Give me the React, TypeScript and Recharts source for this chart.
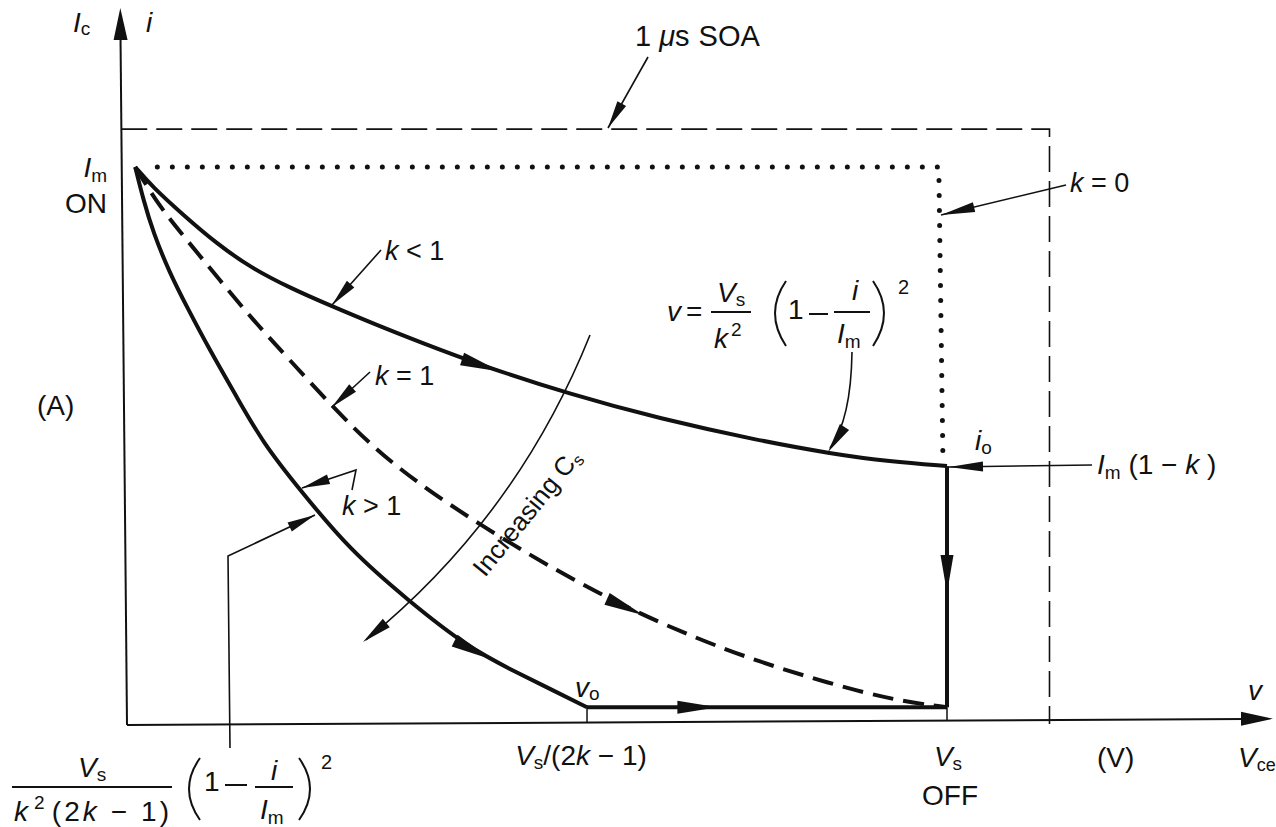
import { LineChart, Line, XAxis, YAxis } from "recharts";

const WIDTH = 1276;
const HEIGHT = 827;

// pixel position of the origin, and pixels per Vs / per Im
const ORIGIN_X = 127;
const ORIGIN_Y = 724;
const VS_PX = 820;
const IM_PX = 557;

const X_DOMAIN = [-ORIGIN_X / VS_PX, (WIDTH - ORIGIN_X) / VS_PX];
const Y_DOMAIN = [-(HEIGHT - ORIGIN_Y) / IM_PX, ORIGIN_Y / IM_PX];

const sx = (v: number) => ORIGIN_X + v * VS_PX;
const sy = (i: number) => ORIGIN_Y - i * IM_PX;

// all trajectories: v in units of Vs, i in units of Im
const V_S = 1;
const V_O = 0.561; // Vs/(2k - 1), k > 1
const I_O = 0.463; // Im(1 - k), k < 1
const I_TAIL = 0.03;

const K_LT1_V = [0.01, 0.03, 0.07, 0.11, 0.15, 0.2, 0.25, 0.3, 0.36, 0.43, 0.54, 0.65, 0.77, 0.86, 0.93, 1.0];
const K_LT1_I = [1.0, 0.966, 0.912, 0.862, 0.82, 0.782, 0.75, 0.719, 0.684, 0.645, 0.592, 0.548, 0.509, 0.485, 0.471, 0.463];

const K_EQ1_V = [0.01, 0.04, 0.073, 0.113, 0.154, 0.195, 0.251, 0.3, 0.354, 0.434, 0.516, 0.6, 0.69, 0.772, 0.854, 0.934, 1.0];
const K_EQ1_I = [1.0, 0.928, 0.869, 0.797, 0.725, 0.659, 0.569, 0.497, 0.433, 0.354, 0.282, 0.215, 0.156, 0.111, 0.074, 0.043, 0.03];

const K_GT1_V = [0.01, 0.02, 0.032, 0.052, 0.073, 0.101, 0.134, 0.166, 0.211, 0.272, 0.342, 0.415, 0.476, 0.52, 0.561];
const K_GT1_I = [1.0, 0.941, 0.882, 0.81, 0.749, 0.671, 0.587, 0.504, 0.42, 0.312, 0.223, 0.138, 0.092, 0.06, 0.03];

const TAIL_V = [V_O, V_S];
const TAIL_I = [I_TAIL, I_TAIL];
const DROP_V = [V_S, V_S];
const DROP_I = [I_O, I_TAIL];

// k = 0 path and the 1 us safe operating area
const K0_V = [0.037, 0.99, 0.995];
const K0_I = [1.0, 1.0, 0.48];
const SOA_V = [-0.007, 1.125, 1.125];
const SOA_I = [1.068, 1.068, 0];

const INK = "#111";
const FONT = '"Liberation Sans", Arial, Helvetica, sans-serif';

const pts = (vs: number[], is: number[]) => vs.map((v, n) => ({ v, i: is[n] }));

function along(vs: number[], is: number[], v: number) {
  for (let n = 1; n < vs.length; n++) {
    if (v <= vs[n]) {
      const t = (v - vs[n - 1]) / (vs[n] - vs[n - 1]);
      return is[n - 1] + t * (is[n] - is[n - 1]);
    }
  }
  return is[is.length - 1];
}

function Head({ x, y, ux, uy, len = 28, half = 5 }: any) {
  const bx = x - ux * len;
  const by = y - uy * len;
  const px = -uy * half;
  const py = ux * half;
  return <polygon points={`${x},${y} ${bx + px},${by + py} ${bx - px},${by - py}`} fill={INK} />;
}

function Leader({ points, len = 28, half = 5 }: { points: number[][]; len?: number; half?: number }) {
  const [ax, ay] = points[points.length - 2];
  const [tx, ty] = points[points.length - 1];
  const d = Math.hypot(tx - ax, ty - ay);
  return (
    <g>
      <polyline points={points.map((p) => p.join(",")).join(" ")} fill="none" stroke={INK} strokeWidth={1.6} />
      <Head x={tx} y={ty} ux={(tx - ax) / d} uy={(ty - ay) / d} len={len} half={half} />
    </g>
  );
}

// direction arrows sitting on the trajectories
const FLOW = [
  { vs: K_LT1_V, is: K_LT1_I, v: 0.455 },
  { vs: K_EQ1_V, is: K_EQ1_I, v: 0.63 },
  { vs: K_GT1_V, is: K_GT1_I, v: 0.443 },
  { vs: TAIL_V, is: TAIL_I, v: 0.72 },
];

function FlowArrow({ vs, is, v }: { vs: number[]; is: number[]; v: number }) {
  const x1 = sx(v - 0.02);
  const y1 = sy(along(vs, is, v - 0.02));
  const x2 = sx(v);
  const y2 = sy(along(vs, is, v));
  const d = Math.hypot(x2 - x1, y2 - y1);
  return <Head x={x2} y={y2} ux={(x2 - x1) / d} uy={(y2 - y1) / d} len={40} half={6.5} />;
}

function T({ x, y, size = 28, anchor = "start", children, ...rest }: any) {
  return (
    <text x={x} y={y} fontSize={size} fontFamily={FONT} fill={INK} textAnchor={anchor} {...rest}>
      {children}
    </text>
  );
}

const it = { fontStyle: "italic" } as const;

function Annotations() {
  return (
    <svg width={WIDTH} height={HEIGHT} style={{ position: "absolute", left: 0, top: 0, pointerEvents: "none" }}>
      {/* axes */}
      <line x1={sx(0) - 6.5} y1={36} x2={sx(0)} y2={sy(0) + 1} stroke={INK} strokeWidth={2} />
      <Head x={sx(0) - 6.7} y={8} ux={-0.009} uy={-1} len={32} half={7} />
      <line x1={sx(0)} y1={sy(0) + 1} x2={1245} y2={719} stroke={INK} strokeWidth={2} />
      <Head x={1273} y={718.7} ux={1} uy={-0.005} len={32} half={7} />

      {/* ticks at Vs/(2k-1) and Vs */}
      <line x1={sx(V_O)} y1={sy(I_TAIL)} x2={sx(V_O)} y2={sy(0) - 1} stroke={INK} strokeWidth={1.5} />
      <line x1={sx(V_S)} y1={sy(I_TAIL)} x2={sx(V_S)} y2={sy(0) - 3} stroke={INK} strokeWidth={1.5} />

      {FLOW.map((f, n) => (
        <FlowArrow key={n} {...f} />
      ))}
      <Head x={sx(V_S)} y={sy(0.235)} ux={0} uy={1} len={38} half={6.5} />

      {/* leaders */}
      <Leader points={[[648, 57], [608, 128]]} />
      <Leader points={[[1066, 185], [941, 215]]} len={34} />
      <Leader points={[[381, 250], [332, 305]]} />
      <Leader points={[[370, 372], [332, 407]]} />
      <Leader points={[[1092, 465], [949, 467]]} len={34} />
      <Leader points={[[352, 490], [356, 470], [302, 488]]} />
      <Leader points={[[230, 748], [228, 556], [315, 515]]} />
      <path d="M 852 352 Q 851 420 830 448" fill="none" stroke={INK} strokeWidth={1.6} />
      <Head x={828} y={452} ux={-0.55} uy={0.835} len={30} half={5.5} />
      <path d="M 590 335 Q 517 517 366 640" fill="none" stroke={INK} strokeWidth={1.6} />
      <Head x={363} y={642} ux={-0.776} uy={0.631} len={30} half={5.5} />

      {/* axis labels */}
      <T x={73} y={32}>
        <tspan {...it}>I</tspan>
        <tspan fontSize={19} dy={3}>c</tspan>
      </T>
      <T x={146} y={32} {...it}>i</T>
      <T x={107} y={177} anchor="end">
        <tspan {...it}>I</tspan>
        <tspan fontSize={19} dy={5}>m</tspan>
      </T>
      <T x={107} y={213} anchor="end">ON</T>
      <T x={37} y={415}>(A)</T>
      <T x={1248} y={700} {...it}>v</T>
      <T x={1097} y={767}>(V)</T>
      <T x={1238} y={767}>
        <tspan {...it}>V</tspan>
        <tspan fontSize={18} dy={4}>ce</tspan>
      </T>
      <T x={581} y={765} anchor="middle">
        <tspan {...it}>V</tspan>
        <tspan fontSize={19} dy={4}>s</tspan>
        <tspan dy={-4}>/(2</tspan>
        <tspan {...it}>k</tspan>
        <tspan> − 1)</tspan>
      </T>
      <T x={948} y={766} anchor="middle">
        <tspan {...it}>V</tspan>
        <tspan fontSize={19} dy={4}>s</tspan>
      </T>
      <T x={950} y={805} anchor="middle">OFF</T>
      <T x={575} y={697}>
        <tspan {...it}>v</tspan>
        <tspan fontSize={19} dy={3}>o</tspan>
      </T>
      <T x={975} y={450}>
        <tspan {...it}>i</tspan>
        <tspan fontSize={19} dy={4}>o</tspan>
      </T>

      {/* curve labels */}
      <T x={635} y={46} size={29}>
        1 <tspan {...it}>μ</tspan>s<tspan dx={9}>SOA</tspan>
      </T>
      <T x={1070} y={192} size={27}>
        <tspan {...it}>k</tspan> = 0
      </T>
      <T x={385} y={260} size={27}>
        <tspan {...it}>k</tspan> &lt; 1
      </T>
      <T x={375} y={385} size={27}>
        <tspan {...it}>k</tspan> = 1
      </T>
      <T x={342} y={515} size={27}>
        <tspan {...it}>k</tspan> &gt; 1
      </T>
      <T x={1097} y={474}>
        <tspan {...it}>I</tspan>
        <tspan fontSize={19} dy={5}>m</tspan>
        <tspan dy={-5}> (1 − </tspan>
        <tspan {...it}>k</tspan>
        <tspan> )</tspan>
      </T>
      <T x={485} y={578} size={26} transform="rotate(-51 485 578)">
        Increasing C<tspan fontSize={17} dy={4}>s</tspan>
      </T>

      {/* v = Vs/k^2 (1 - i/Im)^2 */}
      <T x={667} y={321} {...it}>v</T>
      <T x={686} y={321}>=</T>
      <line x1={711} y1={312} x2={751} y2={312} stroke={INK} strokeWidth={2} />
      <T x={717} y={302}>
        <tspan {...it}>V</tspan>
        <tspan fontSize={19} dy={4}>s</tspan>
      </T>
      <T x={714} y={348}>
        <tspan {...it}>k</tspan>
        <tspan fontSize={19} dx={3} dy={-12}>2</tspan>
      </T>
      <path d="M 786 281 Q 764 313 786 346" fill="none" stroke={INK} strokeWidth={2} />
      <T x={788} y={319}>1</T>
      <line x1={809} y1={314} x2={828} y2={314} stroke={INK} strokeWidth={2} />
      <line x1={834} y1={312} x2={870} y2={312} stroke={INK} strokeWidth={2} />
      <T x={852} y={300} {...it}>i</T>
      <T x={837} y={343}>
        <tspan {...it}>I</tspan>
        <tspan fontSize={19} dy={5}>m</tspan>
      </T>
      <path d="M 873 281 Q 895 313 873 346" fill="none" stroke={INK} strokeWidth={2} />
      <T x={898} y={294} size={20}>2</T>

      {/* Vs/(k^2 (2k - 1)) (1 - i/Im)^2 */}
      <T x={78} y={777}>
        <tspan {...it}>V</tspan>
        <tspan fontSize={19} dy={4}>s</tspan>
      </T>
      <line x1={12} y1={787} x2={172} y2={787} stroke={INK} strokeWidth={2} />
      <T x={14} y={821} textLength={155} lengthAdjust="spacing">
        <tspan {...it}>k</tspan>
        <tspan fontSize={19} dx={3} dy={-12}>2</tspan>
        <tspan dx={4} dy={12}>(2</tspan>
        <tspan {...it}>k</tspan>
        <tspan> − 1)</tspan>
      </T>
      <path d="M 200 758 Q 178 789 200 820" fill="none" stroke={INK} strokeWidth={2} />
      <T x={204} y={791}>1</T>
      <line x1={225} y1={785} x2={247} y2={785} stroke={INK} strokeWidth={2} />
      <line x1={255} y1={787} x2={293} y2={787} stroke={INK} strokeWidth={2} />
      <T x={271} y={780} {...it}>i</T>
      <T x={260} y={819}>
        <tspan {...it}>I</tspan>
        <tspan fontSize={19} dy={5}>m</tspan>
      </T>
      <path d="M 299 758 Q 321 789 299 820" fill="none" stroke={INK} strokeWidth={2} />
      <T x={321} y={769} size={20}>2</T>
    </svg>
  );
}

const lineProps = {
  dataKey: "i",
  dot: false,
  activeDot: false,
  isAnimationActive: false,
  stroke: INK,
} as const;

export default function App() {
  return (
    <div style={{ position: "absolute", left: 0, top: 0, width: WIDTH, height: HEIGHT, background: "#fff" }}>
      <LineChart width={WIDTH} height={HEIGHT} margin={{ top: 0, right: 0, bottom: 0, left: 0 }}>
        <XAxis type="number" dataKey="v" domain={X_DOMAIN} allowDataOverflow hide />
        <YAxis type="number" domain={Y_DOMAIN} allowDataOverflow hide />
        <Line {...lineProps} data={pts(SOA_V, SOA_I)} type="linear" strokeWidth={1.6} strokeDasharray="26 9" />
        <Line
          {...lineProps}
          data={pts(K0_V, K0_I)}
          type="linear"
          strokeWidth={5}
          strokeDasharray="0 15"
          strokeLinecap="round"
        />
        <Line {...lineProps} data={pts(K_LT1_V, K_LT1_I)} type="basis" strokeWidth={4} />
        <Line {...lineProps} data={pts(K_EQ1_V, K_EQ1_I)} type="basis" strokeWidth={4} strokeDasharray="21 10" />
        <Line {...lineProps} data={pts(K_GT1_V, K_GT1_I)} type="basis" strokeWidth={4} />
        <Line {...lineProps} data={pts(TAIL_V, TAIL_I)} type="linear" strokeWidth={4} />
        <Line {...lineProps} data={pts(DROP_V, DROP_I)} type="linear" strokeWidth={4} />
      </LineChart>
      <Annotations />
    </div>
  );
}
